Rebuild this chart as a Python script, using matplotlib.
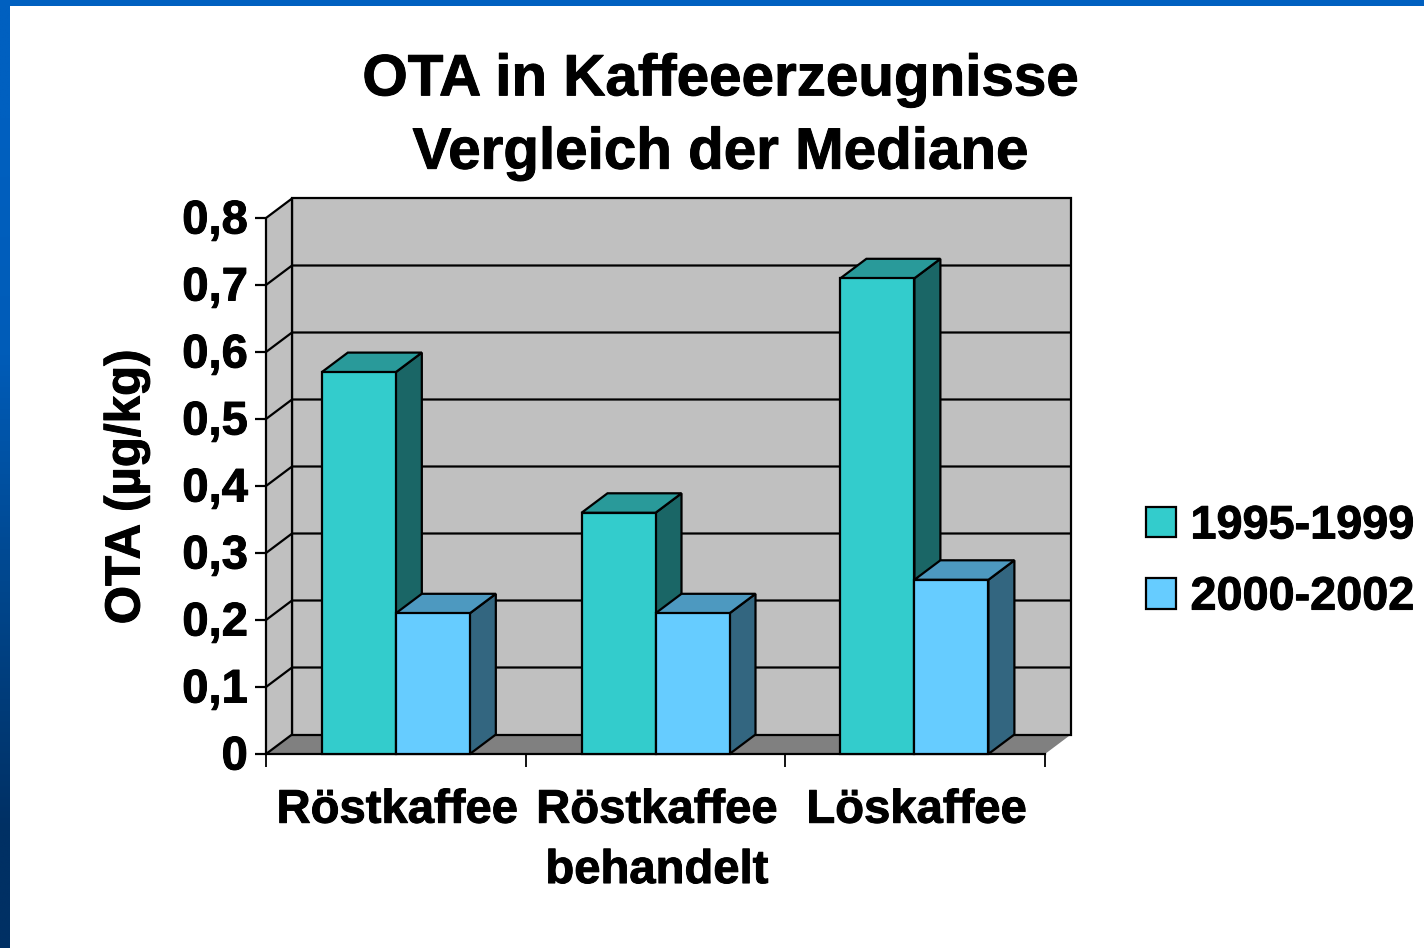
import numpy as np
import matplotlib
matplotlib.use("Agg")
import matplotlib.pyplot as plt
import matplotlib.patheffects as pe
from matplotlib.patches import Polygon, Patch
from matplotlib.text import Text
from matplotlib.transforms import ScaledTranslation

plt.rcParams['font.family'] = ['Liberation Sans', 'DejaVu Sans']
plt.rcParams['font.weight'] = 'bold'

title = "OTA in Kaffeeerzeugnisse\nVergleich der Mediane"
categories = ["Röstkaffee", "Röstkaffee\nbehandelt", "Löskaffee"]
series_names = ["1995-1999", "2000-2002"]
values_1995 = [0.57, 0.36, 0.71]
values_2000 = [0.21, 0.21, 0.26]
y_ticks = [0, 0.1, 0.2, 0.3, 0.4, 0.5, 0.6, 0.7, 0.8]
y_labels = ["0", "0,1", "0,2", "0,3", "0,4", "0,5", "0,6", "0,7", "0,8"]
ylabel = "OTA (µg/kg)"

W, H = 1424, 948
L, R, T, B = 266, 1045, 218, 754
fig = plt.figure(figsize=(W/100, H/100), dpi=100, facecolor='white')

# slide frame: gradient blue strips at left and top
bg = fig.add_axes([0, 0, 1, 1], zorder=0)
bg.set_axis_off()
grad = np.array([[0, 96, 192], [0, 92, 184], [0, 70, 140], [0, 48, 100]]) / 255
bg.imshow(grad[:, None, :], extent=[0, 10, H, 0], aspect='auto', interpolation='bilinear')
bg.imshow(np.array([[[0, 96, 192]]]) / 255, extent=[0, W, 6, 0], aspect='auto')
bg.set_xlim(0, W); bg.set_ylim(H, 0)

ax = fig.add_axes([L/W, 1-B/H, (R-L)/W, (B-T)/H], zorder=1)
ax.patch.set_alpha(0)
ax.set_xlim(0, 3); ax.set_ylim(0, 0.8)
for s in ax.spines.values():
    s.set_visible(False)

# depth of the 3D box in data units
dx = 26 / (R-L) * 3
dy = 19.5 / (B-T) * 0.8
EC = 'black'; LW = 1.6

def poly(pts, fc, ec=EC, z=1, lw=LW):
    ax.add_patch(Polygon(pts, closed=True, facecolor=fc, edgecolor=ec, linewidth=lw,
                         zorder=z, clip_on=False, joinstyle='miter'))

# walls and floor
poly([(0, 0), (3, 0), (3+dx, dy), (dx, dy)], '#808080', ec='none', z=1)
poly([(dx, dy), (3+dx, dy), (3+dx, 0.8+dy), (dx, 0.8+dy)], '#C0C0C0', z=1)
poly([(0, 0), (dx, dy), (dx, 0.8+dy), (0, 0.8)], '#C0C0C0', z=1)
for v in y_ticks[1:-1]:
    ax.plot([0, dx, 3+dx], [v, v+dy, v+dy], color='black', lw=LW, zorder=1.5,
            clip_on=False, solid_capstyle='butt')
ax.plot([0, 3], [0, 0], color='black', lw=LW, zorder=1.6, clip_on=False)

# bars
bw = 74 / (R-L) * 3
group_centers = [0.5, 1.5, 2.497]
palette = [('#33CCCC', '#299A9A', '#1A6666'), ('#66CCFF', '#4D99C0', '#336680')]
z = 2
for i, c in enumerate(group_centers):
    for j, vals in enumerate((values_1995, values_2000)):
        x0 = c - bw + j*bw
        x1 = x0 + bw
        h = vals[i]
        front, top, side = palette[j]
        poly([(x1, 0), (x1+dx, dy), (x1+dx, h+dy), (x1, h)], side, z=z)
        poly([(x0, h), (x1, h), (x1+dx, h+dy), (x0+dx, h+dy)], top, z=z)
        poly([(x0, 0), (x1, 0), (x1, h), (x0, h)], front, z=z+0.1)
        z += 1

# axes ticks and labels
ax.set_yticks(y_ticks, y_labels, fontsize=34, fontweight='bold')
ax.tick_params(axis='y', length=8, width=1.6, pad=5, color='black')
up = ScaledTranslation(0, 1.5/100, fig.dpi_scale_trans)
for lab in ax.get_yticklabels():
    lab.set_transform(lab.get_transform() + up)
ax.set_xticks([0, 1, 2, 3], [""]*4)
ax.tick_params(axis='x', which='major', length=9, width=1.3)
ax.set_xticks([0.5, 1.5, 2.5], categories, minor=True, fontsize=34, fontweight='bold',
              linespacing=1.48)
ax.tick_params(axis='x', which='minor', length=0, pad=25)
right = ScaledTranslation(1.5/100, 0, fig.dpi_scale_trans)
for lab in ax.get_xticklabels(minor=True):
    lab.set_verticalalignment('top')
    lab.set_transform(lab.get_transform() + right)

fig.text(127/W, 1-487/H, ylabel, rotation=90, ha='center', va='center',
         fontsize=35.5, fontweight='bold')
fig.text(721/W, 1-117/H, title, ha='center', va='center', fontsize=42,
         fontweight='bold', linespacing=1.46)

handles = [Patch(facecolor=palette[0][0], edgecolor='black', lw=1.6),
           Patch(facecolor=palette[1][0], edgecolor='black', lw=1.6)]
fig.legend(handles, series_names, loc='center left', bbox_to_anchor=(1146/W, 1-562/H),
           frameon=False, borderpad=0, borderaxespad=0,
           handlelength=0.64, handleheight=0.64, handletextpad=0.31, labelspacing=0.58,
           prop={'size': 33.7, 'weight': 'bold'})

# the reference's text is slightly heavier than Liberation Sans Bold
fig.canvas.draw()
for t in fig.findobj(Text):
    if t.get_text():
        t.set_path_effects([pe.withStroke(linewidth=0.7, foreground='black')])

fig.savefig("out.png", dpi=100, facecolor='white')
